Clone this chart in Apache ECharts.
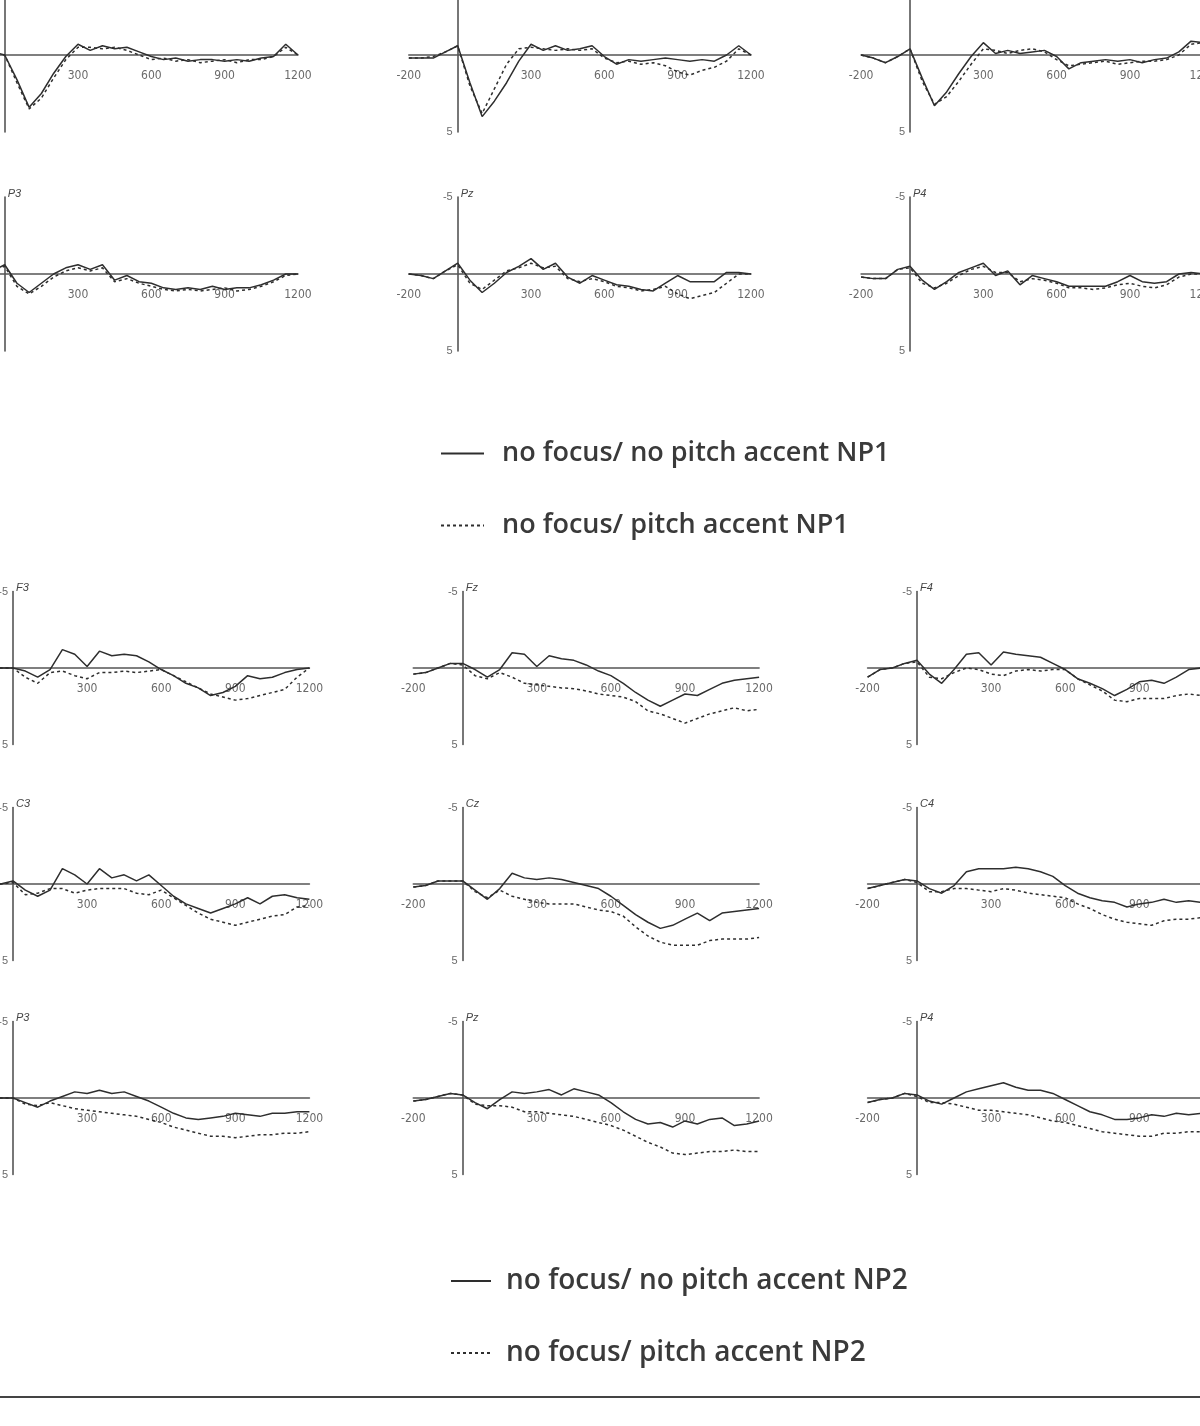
<!DOCTYPE html>
<html><head><meta charset="utf-8">
<script src="https://cdn.jsdelivr.net/npm/echarts@6/dist/echarts.min.js"></script>
<style>html,body{margin:0;padding:0;background:#fff}#c{width:1200px;height:1426px}</style>
</head><body><div id="c"></div>
<script>
// time points (ms)
const times = [-200,-150,-100,-50,0,50,100,150,200,250,300,350,400,450,500,550,600,650,700,750,800,850,900,950,1000,1050,1100,1150,1200];
const xTickLabels = [-200,300,600,900,1200];
const yTickLabels = [-5,5];
const legendNP1 = ['no focus/ no pitch accent NP1','no focus/ pitch accent NP1'];
const legendNP2 = ['no focus/ no pitch accent NP2','no focus/ pitch accent NP2'];

// ---- NP1 block (upper) ----
const c3_np1_solid  = [0.1,-0.1,0.1,-0.2,0,1.6,3.4,2.5,1.2,0.1,-0.7,-0.3,-0.6,-0.4,-0.5,-0.2,0.1,0.3,0.2,0.4,0.3,0.3,0.4,0.3,0.4,0.2,0.1,-0.7,0];
const c3_np1_dotted = [0.1,0,0.1,-0.1,0,1.8,3.5,2.8,1.5,0.3,-0.5,-0.5,-0.4,-0.5,-0.3,0,0.3,0.2,0.4,0.3,0.5,0.4,0.3,0.5,0.3,0.3,0.1,-0.5,0];
const cz_np1_solid  = [0.2,0.2,0.2,-0.2,-0.6,1.8,4.0,3.0,1.8,0.4,-0.7,-0.3,-0.6,-0.3,-0.4,-0.6,0.1,0.6,0.3,0.4,0.3,0.2,0.3,0.4,0.3,0.4,0.0,-0.6,0];
const cz_np1_dotted = [0.2,0.2,0.1,-0.2,-0.6,2.0,3.8,2.2,0.6,-0.4,-0.5,-0.4,-0.3,-0.4,-0.3,-0.4,0.2,0.5,0.4,0.6,0.5,0.7,1.1,1.3,1.0,0.8,0.4,-0.4,0];
const c4_np1_solid  = [0,0.2,0.5,0.1,-0.4,1.5,3.3,2.4,1.2,0.1,-0.8,-0.1,-0.3,-0.1,-0.2,-0.3,0.1,0.9,0.5,0.4,0.3,0.4,0.3,0.5,0.3,0.2,-0.2,-0.9,-0.8];
const c4_np1_dotted = [0,0.2,0.5,0.1,-0.4,1.7,3.2,2.7,1.7,0.6,-0.4,-0.3,-0.1,-0.3,-0.4,-0.2,0.3,0.7,0.6,0.5,0.4,0.6,0.5,0.4,0.4,0.3,0,-0.7,-0.8];
const p3_np1_solid  = [0,0,0,-0.2,-0.6,0.6,1.2,0.6,0,-0.4,-0.6,-0.3,-0.6,0.4,0.1,0.5,0.6,0.9,1.0,0.9,1.0,0.8,1.0,0.9,0.9,0.7,0.4,0,0];
const p3_np1_dotted = [0,0,0,-0.2,-0.5,0.8,1.3,0.8,0.2,-0.2,-0.4,-0.2,-0.4,0.5,0.3,0.6,0.8,1.0,1.1,1.0,1.1,1.0,0.9,1.1,1.0,0.8,0.5,0.1,0];
const pz_np1_solid  = [0,0.1,0.3,-0.2,-0.7,0.4,1.2,0.6,-0.1,-0.5,-1.0,-0.3,-0.7,0.2,0.6,0.1,0.4,0.7,0.8,1.0,1.1,0.6,0.1,0.5,0.5,0.5,-0.1,-0.1,0];
const pz_np1_dotted = [0,0.1,0.3,-0.2,-0.6,0.6,1.0,0.4,-0.2,-0.4,-0.7,-0.4,-0.5,0.3,0.5,0.3,0.5,0.8,0.9,1.1,1.0,0.8,1.3,1.6,1.4,1.2,0.6,0,0];
const p4_np1_solid  = [0.2,0.3,0.3,-0.3,-0.5,0.4,1.0,0.5,-0.1,-0.4,-0.7,0.1,-0.2,0.7,0.1,0.3,0.5,0.8,0.8,0.8,0.8,0.5,0.1,0.5,0.6,0.5,0.0,-0.1,0];
const p4_np1_dotted = [0.2,0.3,0.3,-0.3,-0.4,0.6,0.9,0.6,0.1,-0.3,-0.5,-0.1,-0.1,0.5,0.3,0.4,0.6,0.9,0.9,1.0,0.9,0.7,0.6,0.8,0.9,0.7,0.2,0,0];

// ---- NP2 block (lower) ----
const f3_np2_solid  = [0,0,0,0,0,0.2,0.6,0.1,-1.2,-0.9,-0.1,-1.1,-0.8,-0.9,-0.8,-0.4,0.1,0.5,1.0,1.3,1.8,1.6,1.2,0.5,0.7,0.6,0.3,0.1,0];
const f3_np2_dotted = [0,0,0,0,0,0.6,1.0,0.3,0.2,0.5,0.7,0.3,0.3,0.2,0.3,0.2,0.1,0.5,0.9,1.3,1.7,1.9,2.1,2.0,1.8,1.6,1.4,0.6,0];
const fz_np2_solid  = [0.4,0.3,0,-0.3,-0.3,0.1,0.6,0.1,-1.0,-0.9,-0.1,-0.8,-0.6,-0.5,-0.2,0.2,0.5,1.0,1.6,2.1,2.5,2.1,1.7,1.8,1.4,1.0,0.8,0.7,0.6];
const fz_np2_dotted = [0.4,0.3,0,-0.3,-0.2,0.5,0.7,0.3,0.6,1.0,1.1,1.2,1.3,1.35,1.5,1.7,1.8,1.9,2.2,2.8,3.0,3.3,3.6,3.3,3.0,2.8,2.6,2.8,2.7];
const f4_np2_solid  = [0.6,0.1,0,-0.3,-0.5,0.4,1.0,0.1,-0.9,-1.0,-0.2,-1.05,-0.9,-0.8,-0.7,-0.3,0.1,0.7,1.0,1.35,1.8,1.4,0.9,0.8,1.0,0.6,0.1,0,0];
const f4_np2_dotted = [0.6,0.1,0,-0.3,-0.4,0.6,0.7,0.3,0,0.1,0.4,0.5,0.2,0.1,0.2,0.1,0.1,0.7,1.1,1.5,2.1,2.2,2.0,2.0,2.0,1.8,1.7,1.8,1.8];
const c3_np2_solid  = [0,0,0,0,-0.2,0.4,0.8,0.4,-1.0,-0.6,0,-1.0,-0.4,-0.6,-0.2,-0.6,0.1,0.8,1.3,1.6,1.9,1.6,1.3,0.9,1.3,0.8,0.7,0.9,1.0];
const c3_np2_dotted = [0,0,0,0,-0.1,0.7,0.6,0.3,0.3,0.6,0.4,0.3,0.3,0.3,0.6,0.7,0.4,0.9,1.4,1.9,2.3,2.5,2.7,2.5,2.3,2.1,2.0,1.5,1.4];
const cz_np2_solid  = [0.2,0.1,-0.2,-0.2,-0.2,0.4,1.0,0.3,-0.7,-0.4,-0.3,-0.4,-0.3,-0.1,0.1,0.3,0.8,1.4,2.0,2.5,2.9,2.7,2.3,1.9,2.4,1.9,1.8,1.7,1.6];
const cz_np2_dotted = [0.2,0.1,-0.2,-0.2,-0.2,0.5,0.9,0.4,0.8,1.0,1.2,1.3,1.3,1.3,1.5,1.7,1.8,2.1,2.8,3.4,3.8,4.0,4.0,4.0,3.7,3.6,3.6,3.6,3.5];
const c4_np2_solid  = [0.3,0.1,-0.1,-0.3,-0.2,0.3,0.6,0.1,-0.8,-1.0,-1.0,-1.0,-1.1,-1.0,-0.8,-0.5,0.1,0.6,0.9,1.1,1.2,1.5,1.3,1.2,1.0,1.2,1.1,1.2,1.2];
const c4_np2_dotted = [0.3,0.1,-0.1,-0.3,-0.1,0.5,0.5,0.3,0.3,0.4,0.5,0.3,0.4,0.6,0.7,0.8,0.9,1.3,1.6,2.0,2.3,2.5,2.6,2.7,2.4,2.3,2.3,2.2,2.2];
const p3_np2_solid  = [0,0,0,0,0,0.3,0.6,0.2,-0.1,-0.4,-0.3,-0.5,-0.3,-0.4,-0.1,0.2,0.6,1.0,1.3,1.4,1.3,1.2,1.0,1.1,1.2,1.0,1.0,0.9,0.9];
const p3_np2_dotted = [0,0,0,0,0,0.4,0.5,0.3,0.5,0.7,0.8,0.9,1.0,1.1,1.2,1.4,1.6,1.9,2.1,2.3,2.5,2.5,2.6,2.5,2.4,2.4,2.3,2.3,2.2];
const pz_np2_solid  = [0.2,0.1,-0.1,-0.3,-0.2,0.3,0.7,0.1,-0.4,-0.3,-0.4,-0.55,-0.2,-0.6,-0.4,-0.2,0.3,0.9,1.4,1.7,1.6,1.9,1.5,1.7,1.4,1.3,1.8,1.7,1.5];
const pz_np2_dotted = [0.2,0.1,-0.1,-0.3,-0.2,0.4,0.5,0.5,0.6,0.9,0.9,1.0,1.1,1.2,1.4,1.6,1.8,2.1,2.5,2.9,3.2,3.6,3.7,3.6,3.5,3.5,3.4,3.5,3.5];
const p4_np2_solid  = [0.3,0.1,0,-0.3,-0.2,0.2,0.4,0.0,-0.4,-0.6,-0.8,-1.0,-0.7,-0.5,-0.5,-0.3,0.1,0.5,0.9,1.1,1.4,1.4,1.3,1.1,1.2,1.0,1.1,1.0,1.0];
const p4_np2_dotted = [0.3,0.1,0,-0.3,-0.1,0.3,0.3,0.4,0.6,0.8,0.8,0.9,1.0,1.1,1.3,1.5,1.6,1.8,2.0,2.2,2.3,2.4,2.5,2.5,2.3,2.3,2.2,2.2,2.1];

// ---- layout (pixels) ----
const upper = {cols:[4.7,457.7,910], rows:[55,274], pxMs:0.2444, pxUv:15.4};
const lower = {cols:[13,462.7,917], rows:[668,884,1098], pxMs:0.247, pxUv:15.3};

const panels = [
  {b:upper,r:0,c:0,label:'',  s:c3_np1_solid,d:c3_np1_dotted,names:legendNP1},
  {b:upper,r:0,c:1,label:'',  s:cz_np1_solid,d:cz_np1_dotted,names:legendNP1},
  {b:upper,r:0,c:2,label:'',  s:c4_np1_solid,d:c4_np1_dotted,names:legendNP1},
  {b:upper,r:1,c:0,label:'P3',s:p3_np1_solid,d:p3_np1_dotted,names:legendNP1},
  {b:upper,r:1,c:1,label:'Pz',s:pz_np1_solid,d:pz_np1_dotted,names:legendNP1},
  {b:upper,r:1,c:2,label:'P4',s:p4_np1_solid,d:p4_np1_dotted,names:legendNP1},
  {b:lower,r:0,c:0,label:'F3',s:f3_np2_solid,d:f3_np2_dotted,names:legendNP2},
  {b:lower,r:0,c:1,label:'Fz',s:fz_np2_solid,d:fz_np2_dotted,names:legendNP2},
  {b:lower,r:0,c:2,label:'F4',s:f4_np2_solid,d:f4_np2_dotted,names:legendNP2},
  {b:lower,r:1,c:0,label:'C3',s:c3_np2_solid,d:c3_np2_dotted,names:legendNP2},
  {b:lower,r:1,c:1,label:'Cz',s:cz_np2_solid,d:cz_np2_dotted,names:legendNP2},
  {b:lower,r:1,c:2,label:'C4',s:c4_np2_solid,d:c4_np2_dotted,names:legendNP2},
  {b:lower,r:2,c:0,label:'P3',s:p3_np2_solid,d:p3_np2_dotted,names:legendNP2},
  {b:lower,r:2,c:1,label:'Pz',s:pz_np2_solid,d:pz_np2_dotted,names:legendNP2},
  {b:lower,r:2,c:2,label:'P4',s:p4_np2_solid,d:p4_np2_dotted,names:legendNP2}
];

const axisColor = '#555';
const traceColor = '#2e2e2e';
const grids=[], xAxes=[], yAxes=[], series=[], titles=[];
panels.forEach((p,i)=>{
  const x0 = p.b.cols[p.c], z = p.b.rows[p.r];
  const top = z - 5*p.b.pxUv;
  grids.push({left: x0 - 200*p.b.pxMs, top: top, width: 1400*p.b.pxMs, height: 10*p.b.pxUv,
              containLabel:false, outerBoundsMode:'none'});
  // x axis shifted up to the 0 µV line, y axis shifted right to the 0 ms line
  xAxes.push({gridIndex:i, type:'value', min:-200, max:1200, interval:100, position:'bottom',
    offset: -5*p.b.pxUv,
    axisLine:{onZero:false, lineStyle:{color:axisColor, width:1.6}},
    axisTick:{show:false}, splitLine:{show:false},
    axisLabel:{margin:15, fontSize:12, color:'#6a6a6a', fontFamily:'DejaVu Sans Condensed, sans-serif',
      showMinLabel:true, showMaxLabel:true, hideOverlap:false,
      formatter:v=> xTickLabels.includes(v) ? String(v) : ''}});
  yAxes.push({gridIndex:i, type:'value', inverse:true, min:-5, max:5, interval:5, position:'left',
    offset: -200*p.b.pxMs,
    axisLine:{onZero:false, lineStyle:{color:axisColor, width:1.6}},
    axisTick:{show:false}, splitLine:{show:false},
    axisLabel:{margin:5, fontSize:11, color:'#6a6a6a',
      formatter:v=> yTickLabels.includes(v) ? String(v) : ''}});
  if (p.label) titles.push({text:p.label, left:x0+3, top:top-9, padding:0,
      textStyle:{fontSize:11, fontWeight:'normal', fontStyle:'italic', color:'#444'}});
  series.push({type:'line', name:p.names[0], xAxisIndex:i, yAxisIndex:i, symbol:'none', showSymbol:false,
    data: times.map((t,k)=>[t,p.s[k]]), lineStyle:{color:traceColor, width:1.5, type:'solid'},
    itemStyle:{color:traceColor, opacity:0}, z:3});
  series.push({type:'line', name:p.names[1], xAxisIndex:i, yAxisIndex:i, symbol:'none', showSymbol:false,
    data: times.map((t,k)=>[t,p.d[k]]), lineStyle:{color:traceColor, width:1.5, type:[3,3]},
    itemStyle:{color:traceColor, opacity:0}, z:3});
});

const legendText1 = {fontFamily:'Open Sans, sans-serif', fontSize:27, fontWeight:600, color:'#3a3a3a', padding:[0,0,0,13]};
const legendText2 = {fontFamily:'Open Sans, sans-serif', fontSize:28, fontWeight:600, color:'#3a3a3a', padding:[0,0,0,10]};
const chart = echarts.init(document.getElementById('c'), null, {renderer:'canvas'});
chart.setOption({
  animation:false,
  backgroundColor:'#ffffff',
  title: titles,
  grid: grids, xAxis: xAxes, yAxis: yAxes, series: series,
  legend:[
    {data:legendNP1, orient:'vertical', left:440, top:440, padding:0, itemWidth:43, itemHeight:14, itemGap:45,
     selectedMode:false, itemStyle:{opacity:0}, textStyle:legendText1},
    {data:legendNP2, orient:'vertical', left:450, top:1267, padding:0, itemWidth:40, itemHeight:14, itemGap:44,
     selectedMode:false, itemStyle:{opacity:0}, textStyle:legendText2}
  ],
  graphic:[{type:'line', shape:{x1:0,y1:1397,x2:1200,y2:1397}, style:{stroke:'#444', lineWidth:2}}]
});
</script></body></html>
